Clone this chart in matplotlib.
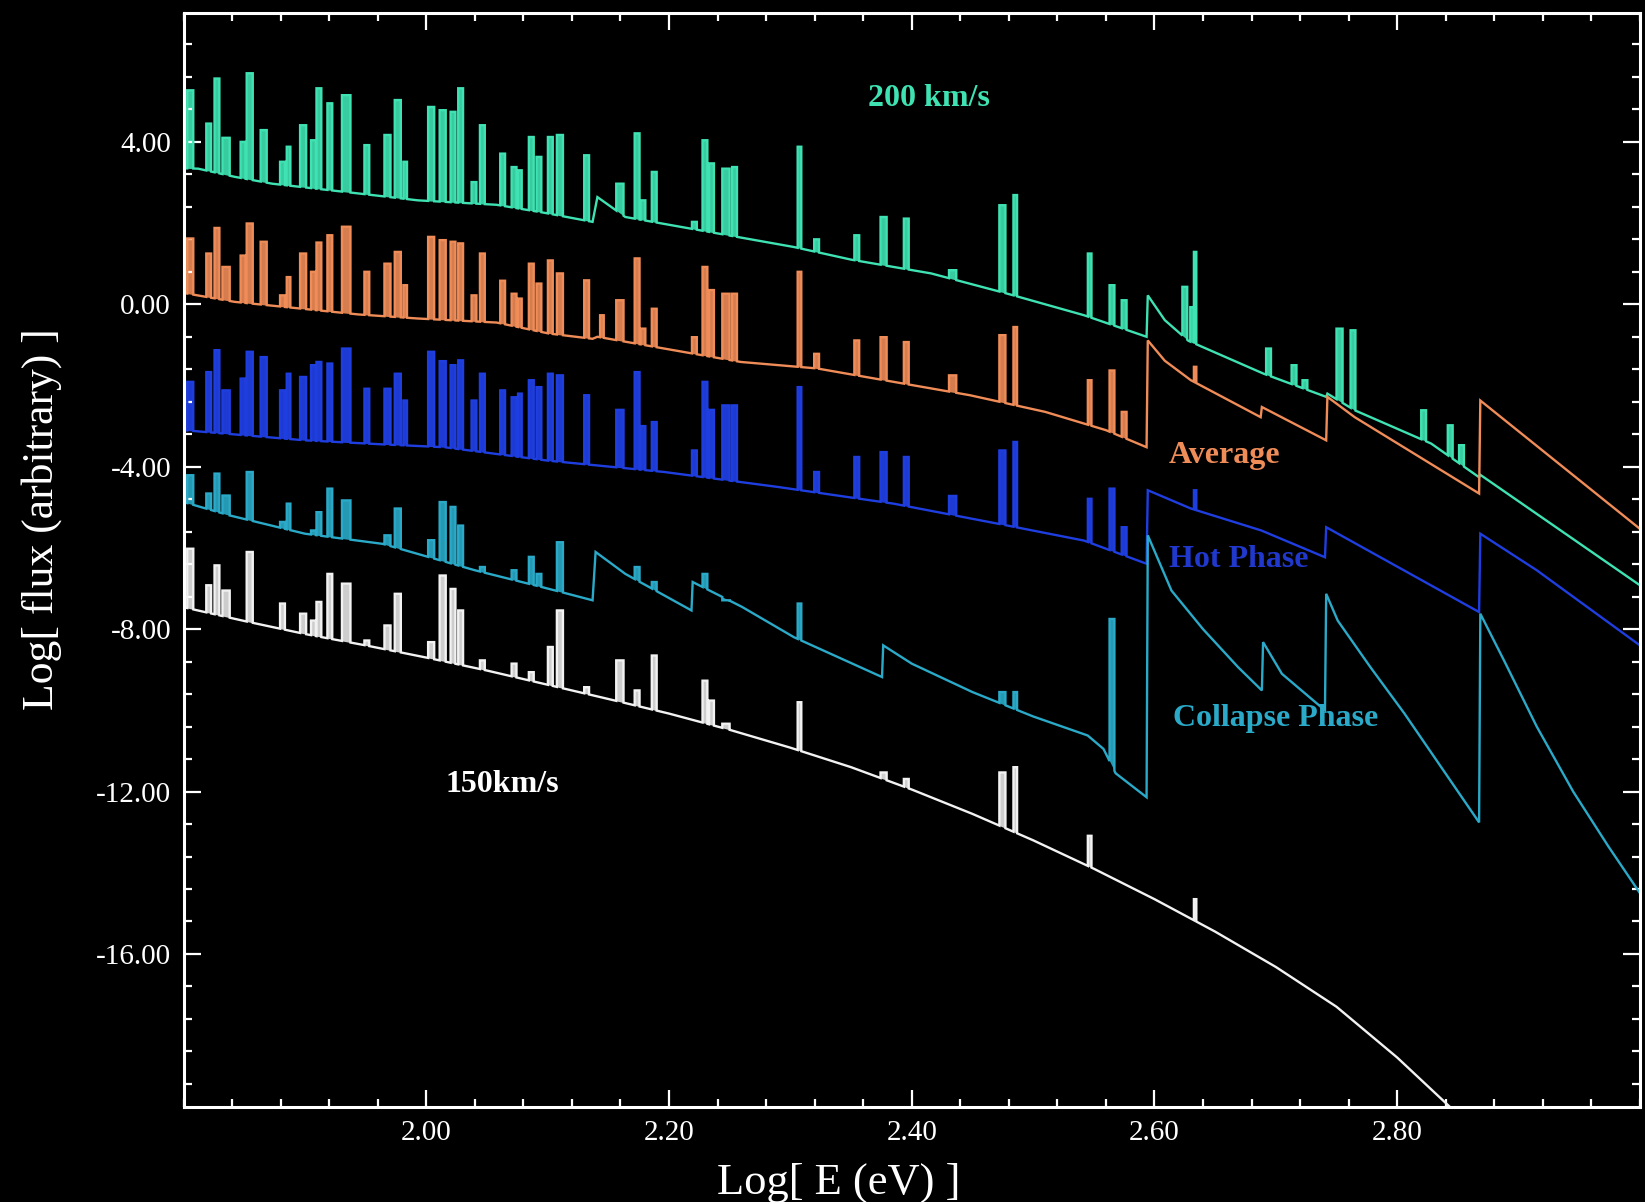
import numpy as np
import matplotlib
matplotlib.use("Agg")
import matplotlib.pyplot as plt
from matplotlib.ticker import MultipleLocator, FixedLocator, FormatStrFormatter

plt.rcParams['font.family'] = ['Liberation Serif', 'DejaVu Serif']

nan = np.nan

# Centros das linhas de emissão (Log E) e larguras, comuns a todos os espectros
linhas_x = [1.8055, 1.8207, 1.8275, 1.8350, 1.8490, 1.8545, 1.8660, 1.8815, 1.8865, 1.8985,
            1.9070, 1.9115, 1.9205, 1.9340, 1.9510, 1.9680, 1.9765, 1.9826, 2.0040, 2.0135,
            2.0220, 2.0283, 2.0393, 2.0462, 2.0629, 2.0723, 2.0771, 2.0865, 2.0928, 2.1022,
            2.1101, 2.1321,
            2.1447, 2.1595, 2.1737, 2.1785, 2.1878, 2.2209, 2.2296, 2.2350, 2.2469, 2.2540,
            2.3075, 2.3216, 2.3547, 2.3768, 2.3955, 2.4337, 2.4747, 2.4853, 2.5466, 2.5650,
            2.5750, 2.6250, 2.6310, 2.6335, 2.6940, 2.7150, 2.7240, 2.7525, 2.7636, 2.8218,
            2.8437, 2.8530]
linhas_w = [.005, .004, .004, .006, .004, .005, .005, .004, .003, .005,
            .004, .004, .004, .007, .004, .005, .005, .003, .005, .005,
            .004, .004, .004, .004, .004, .004, .003, .004, .004, .004,
            .005, .004,
            .003, .006, .004, .004, .004, .004, .004, .004, .006, .004,
            .003, .004, .004, .005, .004, .006, .005, .003, .003, .004,
            .004, .004, .003, .002, .004, .004, .004, .005, .004, .004,
            .004, .004]

# Topo de cada linha por espectro (nan = linha ausente)
pico_200 = [5.27, 4.45, 5.56, 4.10, 4.00, 5.69, 4.29, 3.51, 3.88, 4.41,
            4.04, 5.32, 4.95, 5.15, 3.92, 4.17, 5.03, 3.51, 4.86, 4.78,
            4.74, 5.32, 3.01, 4.41, 3.71, 3.38, 3.30, 4.12, 3.63, 4.12,
            4.17, 3.67,
            nan, 2.97, 4.21, 2.56, 3.26, 2.03, 4.04, 3.47, 3.34, 3.38,
            3.88, 1.60, 1.70, 2.15, 2.11, 0.84, 2.44, 2.69, 1.25, 0.47,
            0.10, 0.43, -0.07, 1.29, -1.09, -1.50, -1.87, -0.60, -0.64, -2.61,
            -2.98, -3.47]
pico_media = [1.62, 1.25, 1.88, 0.92, 1.20, 1.99, 1.54, 0.22, 0.67, 1.25,
              0.80, 1.52, 1.70, 1.91, 0.80, 1.00, 1.29, 0.47, 1.66, 1.58,
              1.54, 1.50, 0.22, 1.25, 0.58, 0.26, 0.14, 1.00, 0.51, 1.08,
              0.76, 0.59,
              -0.27, 0.10, 1.13, -0.60, -0.11, -0.81, 0.92, 0.35, 0.26, 0.26,
              0.80, -1.22, -0.89, -0.81, -0.93, -1.75, -0.76, -0.56, -1.87, -1.63,
              -2.65, nan, nan, -1.54, nan, nan, nan, nan, nan, nan,
              nan, nan]
pico_quente = [-1.91, -1.67, -1.13, -2.12, -1.83, -1.17, -1.30, -2.12, -1.71, -1.79,
               -1.50, -1.42, -1.46, -1.09, -2.08, -2.08, -1.71, -2.37, -1.17, -1.40,
               -1.50, -1.38, -2.37, -1.71, -2.12, -2.29, -2.20, -1.87, -2.04, -1.71,
               -1.75, -2.24,
               nan, -2.60, -1.67, -3.00, -2.90, -3.60, -1.91, -2.60, -2.49, -2.49,
               -2.04, -4.13, -3.76, -3.64, -3.76, -4.72, -3.60, -3.39, -4.79, -4.54,
               -5.49, nan, nan, -4.58, nan, nan, nan, nan, nan, nan,
               nan, nan]
pico_colapso = [-4.21, -4.66, -4.17, -4.71, nan, -4.13, nan, -5.36, -4.91, nan,
                -5.57, -5.12, -4.54, -4.83, nan, -5.69, -5.03, nan, -5.81, -4.87,
                -4.99, -5.45, nan, -6.47, nan, -6.55, nan, -6.22, -6.64, nan,
                -5.86, nan,
                nan, nan, -6.47, nan, -6.84, nan, -6.64, nan, -7.29, nan,
                -7.37, nan, nan, nan, nan, nan, -9.55, -9.55, nan, -7.75,
                nan, nan, nan, nan, nan, nan, nan, nan, nan, nan,
                nan, nan]
pico_150 = [-6.02, -6.92, -6.43, -7.05, nan, -6.10, nan, -7.37, nan, -7.62,
            -7.79, -7.33, -6.64, -6.88, -8.28, -7.91, -7.13, nan, -8.32, -6.68,
            -7.01, -7.54, nan, -8.77, nan, -8.85, nan, -9.06, nan, -8.44,
            -7.54, -9.43,
            nan, -8.77, -9.51, nan, -8.65, nan, -9.27, -9.76, -10.33, nan,
            -9.80, nan, nan, -11.53, -11.69, nan, -11.53, -11.40, -13.09, nan,
            nan, nan, nan, -14.65, nan, nan, nan, nan, nan, nan,
            nan, nan]

# Contínuo de cada espectro (nós lidos, com as bordas de absorção)
cont_200_x = [1.800, 1.812, 1.842, 1.873, 1.944, 1.993, 2.058, 2.098, 2.137, 2.141,
              2.164, 2.226, 2.303, 2.350, 2.416, 2.479, 2.542, 2.5935, 2.5945, 2.6085,
              2.628, 2.690, 2.7415, 2.7425, 2.765, 2.828, 2.8675, 2.8685, 3.000]
cont_200_y = [3.35, 3.34, 3.14, 2.97, 2.73, 2.56, 2.45, 2.25, 2.03, 2.64,
              2.15, 1.82, 1.41, 1.10, 0.76, 0.26, -0.27, -0.80, 0.22, -0.39,
              -0.90, -1.71, -2.28, -2.20, -2.61, -3.43, -4.26, -4.20, -6.92]

cont_media_x = [1.800, 1.842, 1.944, 1.993, 2.058, 2.101, 2.137, 2.141, 2.196, 2.259,
                2.322, 2.385, 2.448, 2.510, 2.560, 2.5935, 2.5945, 2.6085, 2.630, 2.6875,
                2.6885, 2.7415, 2.7425, 2.765, 2.8675, 2.8685, 3.000]
cont_media_y = [0.28, 0.06, -0.25, -0.35, -0.45, -0.72, -0.85, -0.80, -1.09, -1.42,
                -1.58, -1.91, -2.24, -2.65, -3.10, -3.52, -0.89, -1.39, -1.87, -2.78,
                -2.53, -3.35, -2.28, -2.78, -4.66, -2.37, -5.53]

cont_quente_x = [1.800, 1.900, 1.964, 2.015, 2.100, 2.196, 2.290, 2.385, 2.479, 2.542,
                 2.5935, 2.5945, 2.630, 2.688, 2.7405, 2.7415, 2.8675, 2.8685, 2.915, 3.000]
cont_quente_y = [-3.10, -3.35, -3.45, -3.52, -3.85, -4.13, -4.50, -4.91, -5.45, -5.82,
                 -6.39, -4.58, -5.03, -5.57, -6.23, -5.49, -7.58, -5.65, -6.55, -8.40]

cont_colapso_x = [1.800, 1.838, 1.900, 1.964, 2.040, 2.100, 2.137, 2.1395, 2.164, 2.2185,
                  2.2195, 2.260, 2.303, 2.3755, 2.3765, 2.400, 2.450, 2.500, 2.545, 2.558,
                  2.568, 2.5935, 2.5945, 2.614, 2.640, 2.669, 2.6885, 2.6895, 2.705, 2.7405,
                  2.7415, 2.751, 2.778, 2.806, 2.8675, 2.8685, 2.888, 2.915, 2.945, 2.974,
                  3.000]
cont_colapso_y = [-4.87, -5.20, -5.65, -5.90, -6.55, -7.00, -7.29, -6.10, -6.64, -7.54,
                  -6.84, -7.45, -8.20, -9.18, -8.40, -8.85, -9.55, -10.15, -10.62, -10.95,
                  -11.55, -12.14, -5.69, -7.05, -8.00, -8.94, -9.51, -8.32, -9.10, -10.00,
                  -7.13, -7.79, -8.94, -10.08, -12.76, -7.62, -8.77, -10.40, -12.00, -13.35,
                  -14.50]

cont_150_x = [1.80, 1.85, 1.90, 1.95, 2.00, 2.05, 2.10, 2.15, 2.20, 2.25,
              2.30, 2.35, 2.40, 2.45, 2.50, 2.55, 2.60, 2.65, 2.70, 2.75,
              2.80, 2.85, 2.87]
cont_150_y = [-7.46, -7.80, -8.12, -8.40, -8.70, -9.02, -9.37, -9.72, -10.08, -10.48,
              -10.92, -11.40, -11.95, -12.55, -13.20, -13.90, -14.65, -15.45, -16.32, -17.30,
              -18.55, -19.95, -20.55]


# Monta o espectro em degraus: contínuo + linhas retangulares
def montar_espectro(cx, cy, lx, lw, ly):
    cx = np.asarray(cx, dtype=float)
    cy = np.asarray(cy, dtype=float)
    pontos = []
    faixas = []
    for x0, w, topo in zip(lx, lw, ly):
        if np.isnan(topo):
            continue
        a, b = x0 - w / 2, x0 + w / 2
        faixas.append((a, b))
        pontos += [(a, np.interp(a, cx, cy)), (a, topo),
                   (b, topo), (b, np.interp(b, cx, cy))]
    # nós do contínuo que não caem dentro de uma linha
    for x, y in zip(cx, cy):
        if not any(a <= x <= b for a, b in faixas):
            pontos.append((x, y))
    pontos.sort(key=lambda p: p[0])  # sort estável mantém a ordem dos cantos
    xs = np.array([p[0] for p in pontos])
    ys = np.array([p[1] for p in pontos])
    return xs, ys, np.interp(xs, cx, cy)


fig = plt.figure(figsize=(16.45, 12.02), dpi=100, facecolor='black')
ax = fig.add_axes([0.1116, 0.0790, 0.8853, 0.9104], facecolor='black')

espectros = [
    (cont_200_x, cont_200_y, pico_200, '#3fe2b2', 0.9),
    (cont_media_x, cont_media_y, pico_media, '#ef8c58', 0.9),
    (cont_quente_x, cont_quente_y, pico_quente, '#1f3ee0', 0.95),
    (cont_colapso_x, cont_colapso_y, pico_colapso, '#2aaac8', 0.9),
    (cont_150_x, cont_150_y, pico_150, '#f2f2f2', 0.85),
]

for cx, cy, picos, cor, alfa in espectros:
    xs, ys, base = montar_espectro(cx, cy, linhas_x, linhas_w, picos)
    ax.fill_between(xs, base, ys, color=cor, alpha=alfa, lw=0)
    ax.plot(xs, ys, color=cor, lw=1.7, solid_joinstyle='miter')

# Rótulos de cada curva
rotulos = dict(fontsize=23, fontweight='bold', va='center')
ax.text(2.414, 5.08, '200 km/s', color='#3fe2b2', ha='center', **rotulos)
ax.text(2.612, -3.72, 'Average', color='#ef8c58', ha='left', **rotulos)
ax.text(2.612, -6.28, 'Hot Phase', color='#2038cc', ha='left', **rotulos)
ax.text(2.615, -10.20, 'Collapse Phase', color='#2aaac8', ha='left', **rotulos)
ax.text(2.0155, -11.83, '150km/s', color='white', ha='left', **rotulos)

ax.set_xlim(1.80, 3.00)
ax.set_ylim(-19.77, 7.18)

ax.xaxis.set_major_locator(FixedLocator([2.0, 2.2, 2.4, 2.6, 2.8]))
ax.xaxis.set_minor_locator(MultipleLocator(0.04))
ax.yaxis.set_major_locator(FixedLocator([-16, -12, -8, -4, 0, 4]))
ax.yaxis.set_minor_locator(MultipleLocator(0.8))
ax.xaxis.set_major_formatter(FormatStrFormatter('%.2f'))
ax.yaxis.set_major_formatter(FormatStrFormatter('%.2f'))

ax.tick_params(which='both', direction='in', top=True, right=True,
               colors='white', width=1.6, labelsize=21, pad=9)
ax.tick_params(which='major', length=12)
ax.tick_params(which='minor', length=5.5)
for lado in ax.spines.values():
    lado.set_color('white')
    lado.set_linewidth(2.2)

fig.text(0.510, 0.016, 'Log[ E (eV) ]', color='white', fontsize=32,
         ha='center', va='center')
fig.text(0.0255, 0.568, 'Log[ flux (arbitrary) ]', color='white', fontsize=31.5,
         ha='center', va='center', rotation=90)

fig.savefig('out.png', dpi=100, facecolor='black')
